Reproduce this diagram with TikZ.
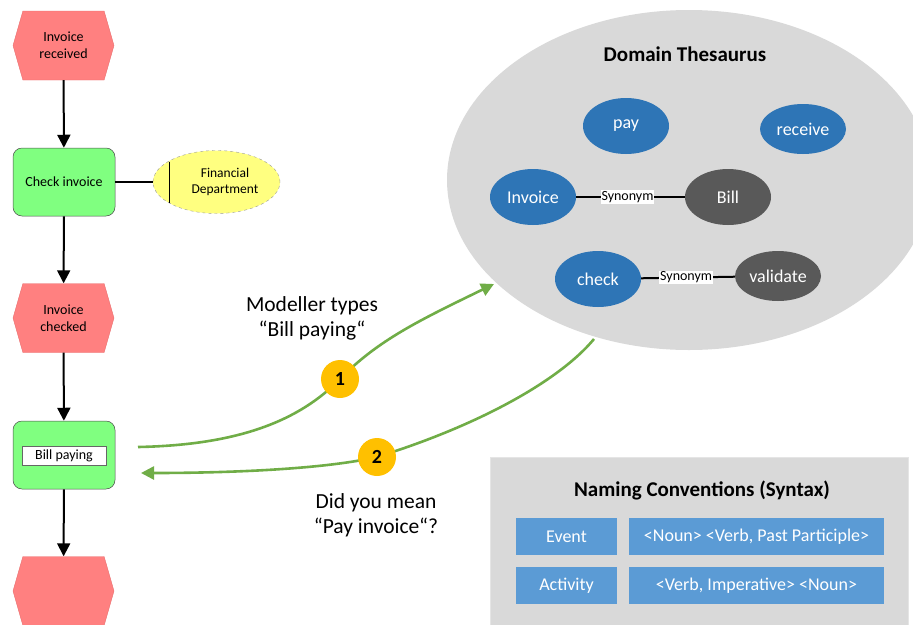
\documentclass[tikz,border=0pt]{standalone}
\usepackage{fontspec}
\setmainfont{Carlito}
\usetikzlibrary{shapes.symbols,shapes.geometric,arrows.meta}
\definecolor{evred}{HTML}{FF8080}
\definecolor{evborder}{HTML}{E87070}
\definecolor{actgreen}{HTML}{80FF80}
\definecolor{fdyellow}{HTML}{FFFF80}
\definecolor{thgray}{HTML}{D9D9D9}
\definecolor{tblue}{HTML}{2E75B6}
\definecolor{tdark}{HTML}{595959}
\definecolor{nblue}{HTML}{5B9BD5}
\definecolor{agreen}{HTML}{70AD47}
\definecolor{badge}{HTML}{FFC000}
\tikzset{
  evnode/.style={shape=signal, signal to=west and east, signal pointer angle=148,
    fill=evred, draw=evborder, line width=0.4pt, minimum width=101pt, minimum height=69pt,
    inner sep=0pt, align=center, font=\fontsize{14}{17}\selectfont},
  actnode/.style={rectangle, rounded corners=9pt, fill=actgreen, draw=black!70, line width=0.5pt,
    minimum width=102pt, minimum height=68pt, align=center, font=\fontsize{14}{17}\selectfont},
  flow/.style={-{Triangle[length=13pt,width=13pt]}, line width=2pt, black},
  thnode/.style={ellipse, fill=tblue, text=white, minimum width=86pt, minimum height=56pt,
    inner sep=0pt, font=\fontsize{18}{22}\selectfont},
  thdark/.style={thnode, fill=tdark},
  synlabel/.style={fill=white, inner sep=1pt, font=\fontsize{14}{17}\selectfont},
  synline/.style={line width=2pt, black},
  ncbox/.style={rectangle, fill=nblue, text=white, minimum height=37pt, inner sep=0pt,
    font=\fontsize{18}{22}\selectfont},
  garrow/.style={-{Triangle[length=13pt,width=13pt]}, line width=2.6pt, agreen},
  gline/.style={line width=2.6pt, agreen},
  badgenode/.style={circle, fill=badge, minimum size=38pt, inner sep=0pt,
    font=\fontsize{20}{24}\selectfont\bfseries},
  bigtext/.style={align=center, font=\fontsize{21.5}{25}\selectfont},
}
\begin{document}
\begin{tikzpicture}[x=1pt,y=-1pt]
\useasboundingbox (0,0) rectangle (913,624);
% Domain thesaurus background
\node[ellipse, fill=thgray, minimum width=484pt, minimum height=340pt, inner sep=0pt] (thes) at (689,180) {};
\node[font=\fontsize{21}{24}\selectfont\bfseries] (thtitle) at (685,54) {Domain Thesaurus};
\node[thnode] (pay) at (626,126) {pay};
\node[thnode, minimum height=50pt] (receive) at (803,129) {receive};
\node[thnode] (invoice) at (533,197) {Invoice};
\node[thdark] (bill) at (728,197) {Bill};
\node[thnode] (check) at (598,279) {check};
\node[thdark, minimum height=50pt] (validate) at (778,276) {validate};
\draw[synline] (invoice) -- (bill) node[synlabel, pos=0.5, xshift=-3pt] (syn1) {Synonym};
\draw[synline] (check) -- (validate) node[synlabel, pos=0.48] (syn2) {Synonym};

% Naming conventions
\node[rectangle, fill=thgray, draw=black!10, minimum width=418pt, minimum height=180pt, anchor=north west, inner sep=0pt] (nc) at (490,457) {};
\node[font=\fontsize{21}{24}\selectfont\bfseries] (nctitle) at (702,490) {Naming Conventions (Syntax)};
\node[ncbox, minimum width=101pt] (event) at (566.5,536.5) {Event};
\node[ncbox, minimum width=255pt] (eventp) at (756.5,536.5) {<Noun> <Verb, Past Participle>};
\node[ncbox, minimum width=101pt] (activity) at (566.5,585.5) {Activity};
\node[ncbox, minimum width=255pt] (activityp) at (756.5,585.5) {<Verb, Imperative> <Noun>};

% Process chain
\node[evnode] (e1) at (63.5,45.5) {Invoice\\received};
\node[actnode] (a1) at (64,182) {Check invoice};
\node[ellipse, fill=fdyellow, draw=black!40, dashed, line width=0.4pt, minimum width=127pt, minimum height=63pt, inner sep=0pt] (fd) at (216.5,182) {};
\node[align=center, font=\fontsize{13.5}{16.5}\selectfont] (fdtext) at (225,182) {Financial\\Department};
\draw[line width=0.6pt] (169,161.5) -- (169,202.5);
\node[evnode] (e2) at (63.5,318) {Invoice\\checked};
\node[actnode] (a2) at (64,455) {};
\node[rectangle, fill=white, draw=black!60, line width=0.5pt, minimum width=84pt, minimum height=19pt, inner sep=0pt, font=\fontsize{14}{16}\selectfont] (bp) at (64,455.5) {Bill paying};
\node[evnode] (e3) at (63.5,591) {};

\draw[flow] (e1) -- (a1);
\draw[flow] (a1) -- (e2);
\draw[flow] (e2) -- (a2);
\draw[flow] (a2) -- (e3);
\draw[line width=2pt] (a1) -- (fd);

% Green arrows
\coordinate (s1) at (138,447);
\coordinate (t1) at (494,284);
\coordinate (s2) at (594,339);
\coordinate (t2) at (141,473);
\coordinate (c1) at (340,379);
\coordinate (c2) at (377,457);
\draw[gline] (s1) .. controls (240,445) and (300,420) .. (c1);
\draw[garrow] (c1) .. controls (378,340) and (420,320) .. (t1);
\draw[gline] (s2) .. controls (560,380) and (480,425) .. (c2);
\draw[garrow] (c2) .. controls (320,470) and (220,473) .. (t2);
\node[badgenode] (b1) at (c1) {1};
\node[badgenode] (b2) at (c2) {2};

\node[bigtext] (lab1) at (312,318) {Modeller types\\“Bill paying“};
\node[bigtext] (lab2) at (376,515) {Did you mean\\“Pay invoice“?};
\end{tikzpicture}
\end{document}
